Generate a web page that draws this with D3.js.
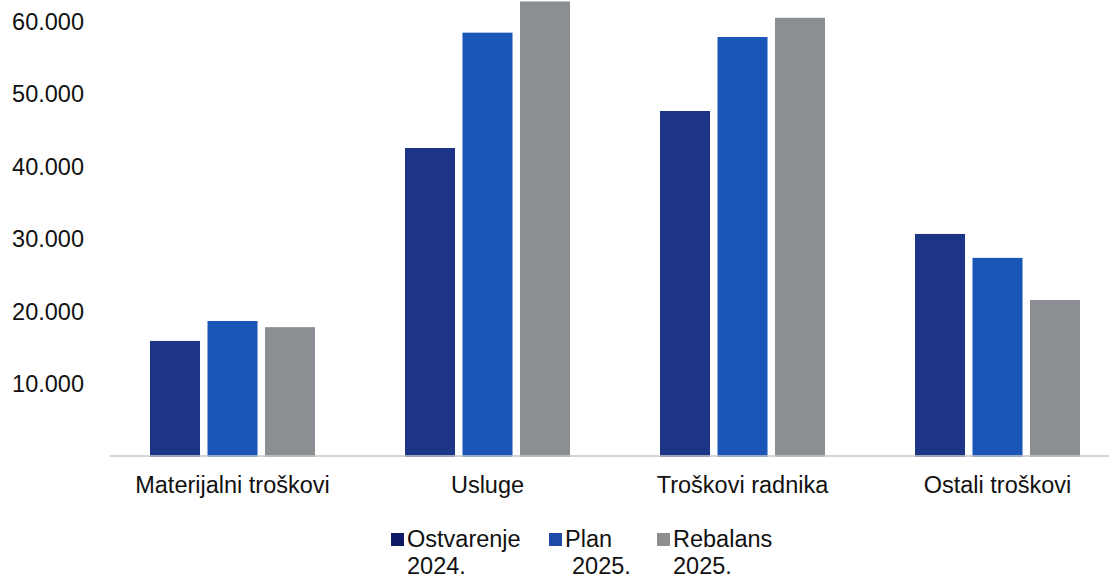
<!doctype html>
<html lang="hr">
<head>
    <meta charset="UTF-8">
    <title>Troškovi</title>
    <script src="https://cdnjs.cloudflare.com/ajax/libs/d3/7.8.5/d3.min.js"></script>
    <style>
        html, body {
            margin: 0;
            padding: 0;
            background: #fff;
            overflow: hidden;
        }
        svg text {
            font-family: "Liberation Sans", Arial, sans-serif;
            fill: #111;
        }
    </style>
</head>
<body>
<svg id="chart" width="1109" height="578"></svg>
<script>
    // data
    const categories = ["Materijalni troškovi", "Usluge", "Troškovi radnika", "Ostali troškovi"];
    const series = ["Ostvarenje 2024.", "Plan 2025.", "Rebalans 2025."];
    const ostvarenje2024 = [16000, 42600, 47700, 30750];
    const plan2025 = [18750, 58500, 57900, 27450];
    const rebalans2025 = [17900, 62800, 60550, 21650];
    const yTicks = [10000, 20000, 30000, 40000, 50000, 60000];
    const legendLines = [["Ostvarenje", "2024."], ["Plan", "2025."], ["Rebalans", "2025."]];

    const colors = ["#1c3587", "#1a55b8", "#8b8e93"];
    const legendColors = ["#0e1a66", "#1f4aa8", "#8e8e8e"];

    const rows = categories.map((c, i) => ({
        cat: c,
        vals: [ostvarenje2024[i], plan2025[i], rebalans2025[i]]
    }));

    const svg = d3.select("#chart");
    const baseY = 457;

    const x0 = d3.scaleBand().domain(categories).range([105, 1125])
        .paddingInner(0.353).paddingOuter(0.1765);
    const x1 = d3.scaleBand().domain(series).range([0, x0.bandwidth()])
        .paddingInner(0.13).paddingOuter(0);
    const y = d3.scaleLinear().domain([0, 63000]).range([baseY, 0]);

    const loc = d3.formatLocale({decimal: ",", thousands: ".", grouping: [3], currency: ["", ""]});
    const fmt = loc.format(",d");

    // y axis, labels only
    const yAxis = svg.append("g")
        .attr("transform", "translate(86,0)")
        .call(d3.axisLeft(y).tickValues(yTicks).tickFormat(fmt).tickSize(0).tickPadding(2));
    yAxis.select(".domain").remove();
    yAxis.selectAll("text").style("font-size", "23.5px");

    // bars
    const groups = svg.append("g").selectAll("g")
        .data(rows)
        .enter().append("g")
        .attr("transform", d => "translate(" + x0(d.cat) + ",0)");

    groups.selectAll("rect")
        .data(d => d.vals.map((v, j) => ({s: series[j], v: v, j: j})))
        .enter().append("rect")
        .attr("x", d => x1(d.s))
        .attr("y", d => y(d.v))
        .attr("width", x1.bandwidth())
        .attr("height", d => baseY - y(d.v))
        .attr("fill", d => colors[d.j]);

    // x axis
    const xAxis = svg.append("g")
        .attr("transform", "translate(0," + (baseY - 1) + ")")
        .call(d3.axisBottom(x0).tickSize(0).tickSizeOuter(0).tickPadding(20));
    xAxis.select(".domain").remove();
    xAxis.insert("line", ":first-child")
        .attr("x1", 110)
        .attr("x2", 1109)
        .attr("stroke", "#c9c9c9")
        .attr("stroke-width", 1.5);
    xAxis.selectAll("text").style("font-size", "23.5px");

    // legend
    const legendX = [391, 549, 657];
    const secondLineDx = [0, 7, 0];
    const legend = svg.append("g").selectAll("g")
        .data(legendLines)
        .enter().append("g")
        .attr("transform", (d, i) => "translate(" + legendX[i] + ",0)");

    legend.append("rect")
        .attr("x", 0)
        .attr("y", 533)
        .attr("width", 13)
        .attr("height", 13)
        .attr("fill", (d, i) => legendColors[i]);

    const lt = legend.append("text")
        .style("font-size", "23.5px");
    lt.append("tspan")
        .attr("x", 16)
        .attr("y", 547)
        .text(d => d[0]);
    lt.append("tspan")
        .attr("x", (d, i) => 16 + secondLineDx[i])
        .attr("y", 574)
        .text(d => d[1]);
</script>
</body>
</html>
